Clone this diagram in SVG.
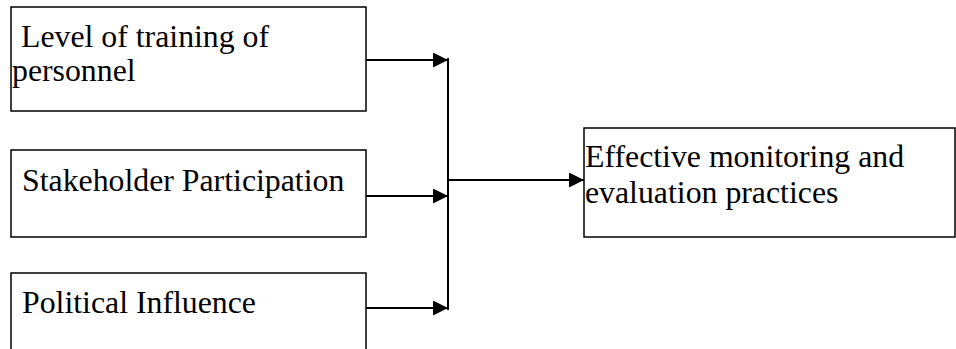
<svg xmlns="http://www.w3.org/2000/svg" width="956" height="349" viewBox="0 0 956 349">
<style>
.box{fill:#fff;stroke:#000;stroke-width:1.5}
.t{font-family:"Liberation Serif","Times New Roman",serif;font-size:31.8px;fill:#000}
.c{stroke:#000;stroke-width:2;fill:none}
</style>
<defs>
<marker id="ah" markerWidth="15" markerHeight="15" refX="15" refY="7.5" orient="auto" markerUnits="userSpaceOnUse">
<path d="M0,0 L15,7.5 L0,15 Z" fill="#000"/>
</marker>
</defs>
<rect width="956" height="349" fill="#fff"/>
<g id="n1">
<rect class="box" x="11" y="7" width="355" height="104"/>
<text class="t" x="21" y="47">Level of training of</text>
<text class="t" x="12" y="81">personnel</text>
</g>
<g id="n2">
<rect class="box" x="11" y="150" width="355" height="87"/>
<text class="t" x="22" y="191">Stakeholder Participation</text>
</g>
<g id="n3">
<rect class="box" x="11" y="273" width="355" height="90"/>
<text class="t" x="22" y="313">Political Influence</text>
</g>
<g id="n4">
<rect class="box" x="584" y="128" width="371" height="109"/>
<text class="t" x="585" y="167">Effective monitoring and</text>
<text class="t" x="585" y="203">evaluation practices</text>
</g>
<g id="connectors">
<line class="c" x1="366" y1="60" x2="448" y2="60" marker-end="url(#ah)"/>
<line class="c" x1="366" y1="196" x2="448" y2="196" marker-end="url(#ah)"/>
<line class="c" x1="366" y1="308" x2="448" y2="308" marker-end="url(#ah)"/>
<line class="c" x1="448" y1="58" x2="448" y2="310"/>
<line class="c" x1="448" y1="180" x2="584" y2="180" marker-end="url(#ah)"/>
</g>
</svg>
